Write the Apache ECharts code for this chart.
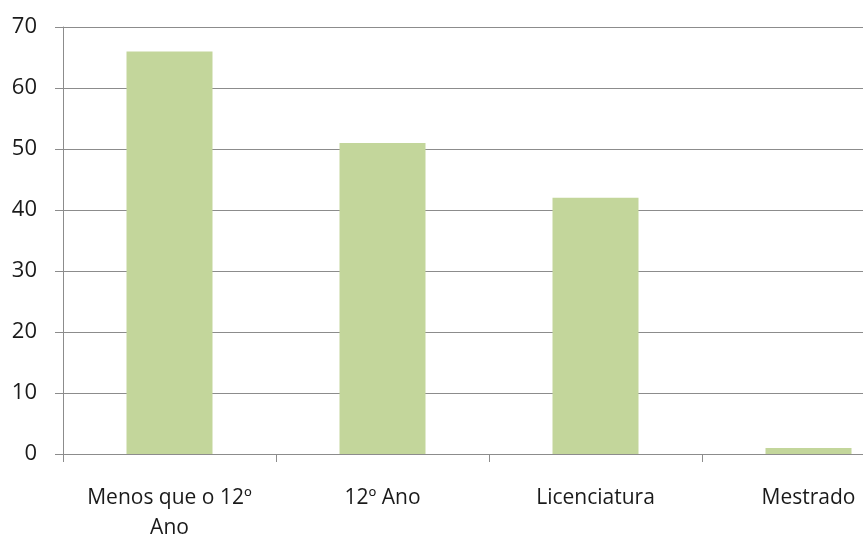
<!DOCTYPE html>
<html>
<head>
<meta charset="utf-8">
<script src="https://cdn.jsdelivr.net/npm/echarts@6/dist/echarts.min.js"></script>
<style>
  html, body { margin: 0; padding: 0; background: #fff; overflow: hidden; }
  /* plot runs past the right edge of the window, as in the original */
  #chart { width: 915px; height: 538px; }
</style>
</head>
<body>
<div id="chart"></div>
<script>
const categories = ['Menos que o 12º\nAno', '12º Ano', 'Licenciatura', 'Mestrado'];
const values = [66, 51, 42, 1];
const yTicks = { min: 0, max: 70, interval: 10 };

const chart = echarts.init(document.getElementById('chart'));
chart.setOption({
  animation: false,
  textStyle: { fontFamily: 'Open Sans' },
  grid: { left: 63, top: 27, right: 0, bottom: 84, containLabel: false, outerBoundsMode: 'none' },
  xAxis: {
    type: 'category',
    data: categories,
    axisLine: { lineStyle: { color: '#8c8c8c' } },
    axisTick: { show: true, length: 8, alignWithLabel: false, lineStyle: { color: '#8c8c8c' } },
    axisLabel: { color: '#1a1a1a', fontSize: 21, margin: 29, lineHeight: 30, interval: 0 },
  },
  yAxis: {
    type: 'value',
    min: yTicks.min,
    max: yTicks.max,
    interval: yTicks.interval,
    axisLine: { show: true, lineStyle: { color: '#8c8c8c' } },
    axisTick: { show: true, length: 8, lineStyle: { color: '#8c8c8c' } },
    axisLabel: { color: '#1a1a1a', fontSize: 22, margin: 26 },
    splitLine: { lineStyle: { color: '#8c8c8c' } },
  },
  series: [{
    type: 'bar',
    data: values,
    barWidth: 86,
    itemStyle: { color: '#c3d69b' },
  }],
});
</script>
</body>
</html>
